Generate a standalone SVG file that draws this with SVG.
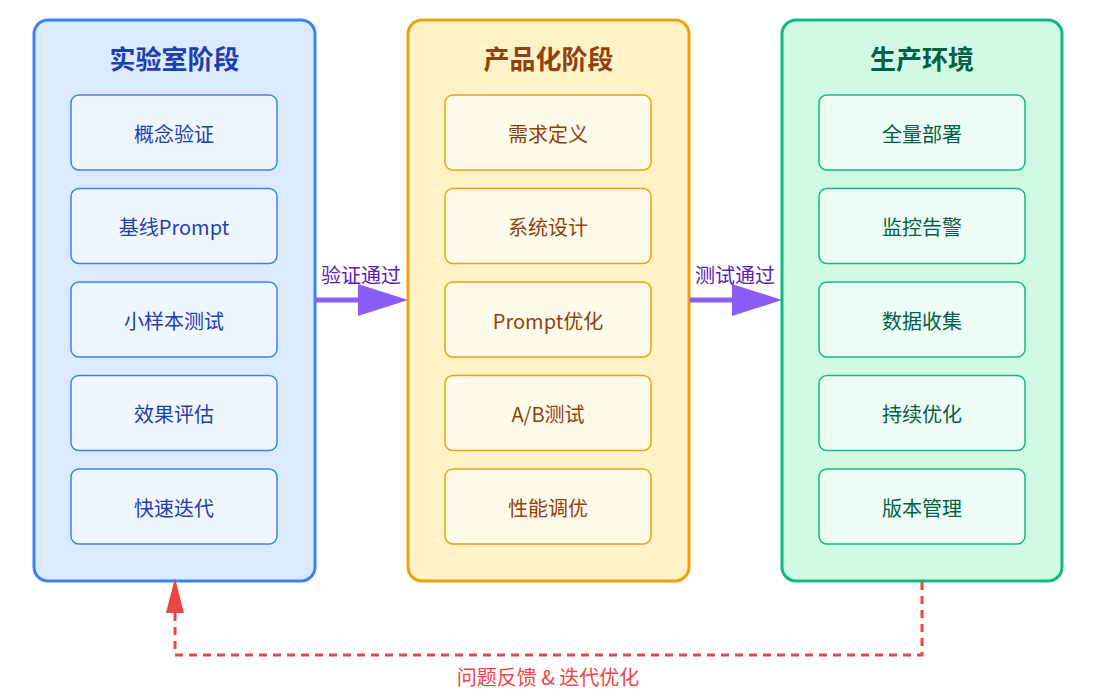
<svg xmlns="http://www.w3.org/2000/svg" width="1093" height="698" viewBox="0 0 1093 698">
<style>
text{font-family:"Noto Sans CJK SC","Noto Sans",sans-serif;text-anchor:middle;dominant-baseline:central}
.panel{stroke-width:3}
.item{stroke-width:1.5}
.title{font-size:26px;font-weight:bold}
.it{font-size:20px}
.b .panel{fill:#dbeafe;stroke:#3b82f6}.b .item{fill:#eff6ff;stroke:#3b82f6}.b text{fill:#1e40af}
.o .panel{fill:#fef3c7;stroke:#f59e0b}.o .item{fill:#fffbeb;stroke:#f59e0b}.o text{fill:#92400e}
.g .panel{fill:#d1fae5;stroke:#10b981}.g .item{fill:#ecfdf5;stroke:#10b981}.g text{fill:#065f46}
.lbl{font-size:20px;fill:#5b21b6}
</style>
<g id="lab" class="b">
<rect class="panel" x="34" y="20" width="281" height="561" rx="14"/>
<text class="title" x="174.5" y="57">实验室阶段</text>
<rect class="item" x="71" y="95" width="206" height="75" rx="8"/><text class="it" x="174" y="133">概念验证</text>
<rect class="item" x="71" y="188.5" width="206" height="75" rx="8"/><text class="it" x="174" y="226">基线Prompt</text>
<rect class="item" x="71" y="282" width="206" height="75" rx="8"/><text class="it" x="174" y="320">小样本测试</text>
<rect class="item" x="71" y="375.5" width="206" height="75" rx="8"/><text class="it" x="174" y="413">效果评估</text>
<rect class="item" x="71" y="469" width="206" height="75" rx="8"/><text class="it" x="174" y="507">快速迭代</text>
</g>
<g id="product" class="o">
<rect class="panel" x="408" y="20" width="281" height="561" rx="14"/>
<text class="title" x="548.5" y="57">产品化阶段</text>
<rect class="item" x="445" y="95" width="206" height="75" rx="8"/><text class="it" x="548" y="133">需求定义</text>
<rect class="item" x="445" y="188.5" width="206" height="75" rx="8"/><text class="it" x="548" y="226">系统设计</text>
<rect class="item" x="445" y="282" width="206" height="75" rx="8"/><text class="it" x="548" y="320">Prompt优化</text>
<rect class="item" x="445" y="375.5" width="206" height="75" rx="8"/><text class="it" x="548" y="413">A/B测试</text>
<rect class="item" x="445" y="469" width="206" height="75" rx="8"/><text class="it" x="548" y="507">性能调优</text>
</g>
<g id="prod" class="g">
<rect class="panel" x="782" y="20" width="280" height="561" rx="14"/>
<text class="title" x="922" y="57">生产环境</text>
<rect class="item" x="819" y="95" width="206" height="75" rx="8"/><text class="it" x="922" y="133">全量部署</text>
<rect class="item" x="819" y="188.5" width="206" height="75" rx="8"/><text class="it" x="922" y="226">监控告警</text>
<rect class="item" x="819" y="282" width="206" height="75" rx="8"/><text class="it" x="922" y="320">数据收集</text>
<rect class="item" x="819" y="375.5" width="206" height="75" rx="8"/><text class="it" x="922" y="413">持续优化</text>
<rect class="item" x="819" y="469" width="206" height="75" rx="8"/><text class="it" x="922" y="507">版本管理</text>
</g>
<g id="connectors">
<line x1="316" y1="300" x2="360" y2="300" stroke="#8b5cf6" stroke-width="5"/>
<polygon points="358,284 408,300 358,316" fill="#8b5cf6"/>
<text class="lbl" x="361" y="274">验证通过</text>
<line x1="690" y1="300" x2="734" y2="300" stroke="#8b5cf6" stroke-width="5"/>
<polygon points="732,284 782,300 732,316" fill="#8b5cf6"/>
<text class="lbl" x="735" y="274">测试通过</text>
<polyline points="922,582 922,655 175,655 175,612" fill="none" stroke="#ef4444" stroke-width="3" stroke-dasharray="8,6"/>
<polygon points="166,613 175,578 184,613" fill="#ef4444"/>
<text x="548" y="676" font-size="20" fill="#ef4444">问题反馈 &amp; 迭代优化</text>
</g>
</svg>
